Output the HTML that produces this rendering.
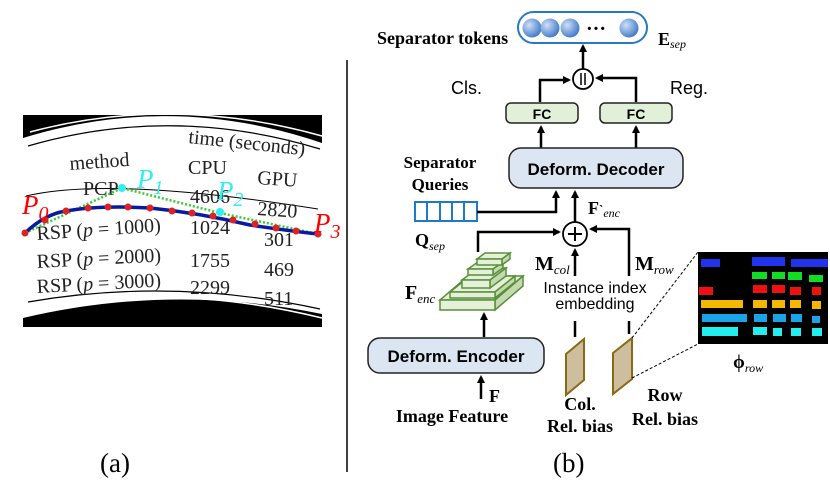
<!DOCTYPE html>
<html><head><meta charset="utf-8"><style>
html,body{margin:0;padding:0;background:#fff;}
svg{display:block;}
.ser{font-family:"Liberation Serif",serif;}
.san{font-family:"Liberation Sans",sans-serif;}
</style></head><body>
<svg width="830" height="498" viewBox="0 0 830 498" xmlns="http://www.w3.org/2000/svg">
<defs>
<marker id="ah" markerWidth="8" markerHeight="8" refX="6" refY="4" orient="auto" markerUnits="userSpaceOnUse">
<path d="M0,0 L8,4 L0,8 Z" fill="#000"/></marker>
<radialGradient id="bg" cx="0.35" cy="0.35" r="0.7">
<stop offset="0" stop-color="#cfe0f7"/><stop offset="1" stop-color="#3f78c8"/></radialGradient>
</defs>

<!-- Panel (a) -->
<rect x="23" y="115" width="299" height="212" fill="#000"/>
<path d="M23,138 Q172,92 322,143 L322,314 Q172,283 23,318 Z" fill="#fff"/>
<path d="M30,132 Q172,94 322,136" fill="none" stroke="#fff" stroke-width="1.5"/>
<path d="M30,310 Q172,281 322,318" fill="none" stroke="#fff" stroke-width="1.5"/>
<path d="M28,146 Q172,104 320,149" fill="none" stroke="#000" stroke-width="1.2"/>
<path d="M26,196 Q110,176 318,209" fill="none" stroke="#000" stroke-width="1"/>
<path d="M28,302 Q172,277 320,309" fill="none" stroke="#000" stroke-width="1.2"/>
<g class="ser" font-size="20" fill="#222">
<text x="188" y="143" transform="rotate(6 188 143)">time (seconds)</text>
<text x="70" y="170" transform="rotate(-4 70 170)">method</text>
<text x="188" y="174">CPU</text>
<text x="257" y="184" transform="rotate(4 257 184)">GPU</text>
<text x="83" y="195">PCP</text>
<text x="190" y="203">4606</text>
<text x="257" y="215" transform="rotate(4 257 215)">2820</text>
<text x="37" y="240" transform="rotate(-4 37 240)">RSP (<tspan font-style="italic">p</tspan> = 1000)</text>
<text x="190" y="234">1024</text>
<text x="264" y="246">301</text>
<text x="37" y="268" transform="rotate(-3 37 268)">RSP (<tspan font-style="italic">p</tspan> = 2000)</text>
<text x="190" y="267">1755</text>
<text x="264" y="276">469</text>
<text x="37" y="293" transform="rotate(-3 37 293)">RSP (<tspan font-style="italic">p</tspan> = 3000)</text>
<text x="190" y="294">2299</text>
<text x="264" y="305">511</text>
</g>
<polyline points="25,233 122,188 220,213 318,234" fill="none" stroke="#3c3" stroke-width="2.5" stroke-dasharray="2,2"/>
<path d="M25,233 Q45,214 66,211 Q100,205 150,208 Q200,213 250,225 Q290,231 318,234" fill="none" stroke="#0a1aa0" stroke-width="3.5"/>
<g fill="#d22">
<circle cx="25" cy="233" r="3.5"/><circle cx="45" cy="220" r="3.5"/><circle cx="66" cy="211" r="3.5"/><circle cx="88" cy="208" r="3.5"/><circle cx="108" cy="207" r="3.5"/><circle cx="128" cy="207" r="3.5"/><circle cx="150" cy="208" r="3.5"/><circle cx="172" cy="211" r="3.5"/><circle cx="192" cy="213" r="3.5"/><circle cx="213" cy="216" r="3.5"/><circle cx="233" cy="220" r="3.5"/><circle cx="255" cy="224" r="3.5"/><circle cx="276" cy="228" r="3.5"/><circle cx="296" cy="231" r="3.5"/><circle cx="318" cy="234" r="3.5"/>
</g>
<circle cx="122" cy="188" r="4" fill="#3ee"/><circle cx="220" cy="212" r="4" fill="#3ee"/>
<g class="ser" font-style="italic" font-size="27">
<text x="22" y="214" fill="#f00">P<tspan font-size="20" dy="6">0</tspan></text>
<text x="137" y="188" fill="#3ee">P<tspan font-size="20" dy="6">1</tspan></text>
<text x="217" y="200" fill="#3ee">P<tspan font-size="20" dy="6">2</tspan></text>
<text x="314" y="232" fill="#f00">P<tspan font-size="20" dy="6">3</tspan></text>
</g>
<text x="100" y="472" class="ser" font-size="27">(a)</text>
<line x1="347" y1="60" x2="347" y2="472" stroke="#000" stroke-width="1.5"/>

<!-- Panel (b) -->
<rect x="518" y="12" width="129" height="31" rx="15.5" fill="#fff" stroke="#2a78c0" stroke-width="2"/>
<circle cx="532" cy="28" r="9.5" fill="url(#bg)"/><circle cx="550" cy="28" r="9.5" fill="url(#bg)"/><circle cx="570" cy="28" r="9.5" fill="url(#bg)"/><circle cx="629" cy="28" r="9.5" fill="url(#bg)"/>
<text x="586" y="35" font-size="20" font-weight="bold" class="ser">···</text>
<text x="377" y="44" class="ser" font-weight="bold" font-size="18">Separator tokens</text>
<text x="658" y="45" class="ser" font-weight="bold" font-size="18">E<tspan font-size="12" font-style="italic" font-weight="normal" dy="3">sep</tspan></text>
<line x1="583" y1="69" x2="583" y2="46" stroke="#000" stroke-width="2.5" marker-end="url(#ah)"/>
<circle cx="583" cy="79" r="10" fill="#fff" stroke="#000" stroke-width="1.8"/>
<line x1="581" y1="73" x2="581" y2="85" stroke="#000" stroke-width="1.5"/><line x1="585" y1="73" x2="585" y2="85" stroke="#000" stroke-width="1.5"/>
<text x="451" y="94" class="san" font-size="18">Cls.</text>
<text x="670" y="94" class="san" font-size="18">Reg.</text>
<polyline points="540,102 540,80 569,80" fill="none" stroke="#000" stroke-width="2.5" marker-end="url(#ah)"/>
<polyline points="636,102 636,78 597,78" fill="none" stroke="#000" stroke-width="2.5" marker-end="url(#ah)"/>
<rect x="506" y="103" width="72" height="20" rx="5" fill="#e2efd9" stroke="#222" stroke-width="1.5"/>
<rect x="600" y="103" width="72" height="20" rx="5" fill="#e2efd9" stroke="#222" stroke-width="1.5"/>
<text x="542" y="119" class="san" font-weight="bold" font-size="14" text-anchor="middle">FC</text>
<text x="636" y="119" class="san" font-weight="bold" font-size="14" text-anchor="middle">FC</text>
<line x1="541" y1="148" x2="541" y2="127" stroke="#000" stroke-width="2.5" marker-end="url(#ah)"/>
<line x1="636" y1="148" x2="636" y2="127" stroke="#000" stroke-width="2.5" marker-end="url(#ah)"/>
<rect x="509" y="148" width="174" height="40" rx="12" fill="#dce6f2" stroke="#222" stroke-width="1.5"/>
<text x="596" y="175" class="san" font-weight="bold" font-size="17" text-anchor="middle">Deform. Decoder</text>

<text x="440" y="168" class="ser" font-weight="bold" font-size="17" text-anchor="middle">Separator</text>
<text x="440" y="190" class="ser" font-weight="bold" font-size="17" text-anchor="middle">Queries</text>
<rect x="415" y="202" width="62" height="19" fill="#fff" stroke="#1e7ac8" stroke-width="2"/>
<g stroke="#1e7ac8" stroke-width="2"><line x1="427" y1="202" x2="427" y2="221"/><line x1="440" y1="202" x2="440" y2="221"/><line x1="452" y1="202" x2="452" y2="221"/><line x1="464" y1="202" x2="464" y2="221"/></g>
<text x="415" y="246" class="ser" font-weight="bold" font-size="18">Q<tspan font-size="12" font-style="italic" font-weight="normal" dy="4">sep</tspan></text>
<polyline points="477,212 556,212 556,192" fill="none" stroke="#000" stroke-width="2.5" marker-end="url(#ah)"/>
<line x1="575" y1="222" x2="575" y2="192" stroke="#000" stroke-width="2.5" marker-end="url(#ah)"/>
<text x="588" y="214" class="ser" font-weight="bold" font-size="18">F<tspan font-size="13">`</tspan><tspan font-size="12" font-style="italic" font-weight="normal" dy="3">enc</tspan></text>
<circle cx="575" cy="234" r="12" fill="#fff" stroke="#000" stroke-width="1.8"/>
<line x1="568" y1="234" x2="582" y2="234" stroke="#000" stroke-width="2"/><line x1="575" y1="227" x2="575" y2="241" stroke="#000" stroke-width="2"/>
<polyline points="478,252 478,232 559,232" fill="none" stroke="#000" stroke-width="2.5" marker-end="url(#ah)"/>
<polyline points="629,276 629,229 591,229" fill="none" stroke="#000" stroke-width="2.5" marker-end="url(#ah)"/>
<line x1="575" y1="276" x2="575" y2="250" stroke="#000" stroke-width="2.5" marker-end="url(#ah)"/>
<text x="535" y="270" class="ser" font-weight="bold" font-size="20">M<tspan font-size="13" font-style="italic" font-weight="normal" dy="4">col</tspan></text>
<text x="635" y="270" class="ser" font-weight="bold" font-size="20">M<tspan font-size="13" font-style="italic" font-weight="normal" dy="4">row</tspan></text>
<text x="595" y="293" class="san" font-size="16" text-anchor="middle">Instance index</text>
<text x="595" y="309" class="san" font-size="16" text-anchor="middle">embedding</text>
<line x1="575" y1="321" x2="575" y2="337" stroke="#000" stroke-width="2.5"/>
<line x1="629" y1="321" x2="629" y2="334" stroke="#000" stroke-width="2.5"/>
<polygon points="566,354 584,339 584,380 566,395" fill="#cdbf9e" stroke="#8b6914" stroke-width="2"/>
<polygon points="613,353 632,338 632,379 613,394" fill="#cdbf9e" stroke="#8b6914" stroke-width="2"/>
<g class="ser" font-weight="bold" font-size="18" text-anchor="middle">
<text x="580" y="410">Col.</text><text x="580" y="432">Rel. bias</text>
<text x="665" y="401">Row</text><text x="665" y="425">Rel. bias</text>
<text x="452" y="422">Image Feature</text>
</g>
<line x1="632" y1="338" x2="698" y2="252" stroke="#000" stroke-dasharray="3,2"/>
<line x1="632" y1="378" x2="698" y2="344" stroke="#000" stroke-dasharray="3,2"/>
<rect x="698" y="252" width="130" height="92" fill="#000"/>
<g>
<rect x="701" y="259" width="19" height="8" fill="#2233ee"/><rect x="752" y="257" width="33" height="9" fill="#2233ee"/><rect x="791" y="259" width="37" height="8" fill="#2233ee"/>
<g fill="#11dd22"><rect x="752" y="272" width="15" height="7"/><rect x="772" y="272" width="13" height="7"/><rect x="788" y="272" width="14" height="8"/><rect x="809" y="275" width="14" height="7"/></g>
<g fill="#ee1111"><rect x="699" y="287" width="14" height="8"/><rect x="753" y="285" width="14" height="8"/><rect x="772" y="285" width="13" height="8"/><rect x="790" y="287" width="11" height="8"/><rect x="812" y="287" width="9" height="8"/></g>
<g fill="#f5b800"><rect x="701" y="300" width="42" height="8"/><rect x="753" y="300" width="14" height="8"/><rect x="772" y="300" width="13" height="8"/><rect x="790" y="300" width="11" height="8"/><rect x="812" y="301" width="9" height="8"/></g>
<g fill="#1aa3e8"><rect x="702" y="314" width="45" height="8"/><rect x="754" y="314" width="13" height="8"/><rect x="773" y="314" width="13" height="8"/><rect x="791" y="314" width="11" height="8"/><rect x="812" y="316" width="8" height="7"/></g>
<g fill="#22eeee"><rect x="702" y="327" width="36" height="9"/><rect x="753" y="327" width="14" height="8"/><rect x="773" y="328" width="9" height="8"/><rect x="791" y="328" width="10" height="8"/><rect x="812" y="328" width="10" height="8"/></g>
</g>
<text x="733" y="368" class="ser" font-weight="bold" font-size="19">ϕ<tspan font-size="12" font-style="italic" font-weight="normal" dy="4">row</tspan></text>

<!-- pyramid -->
<g stroke="#5a8f3a" stroke-width="1.5" fill="#e4f0da">
<polygon points="440,300 495,300 523,276 468,276"/><polygon points="495,300 523,276 523,286 495,310" fill="#c3d9b0"/><rect x="440" y="300" width="55" height="10"/>
<polygon points="450,292 495,292 515,276 470,276"/><polygon points="495,292 515,276 515,282 495,298" fill="#c3d9b0"/><rect x="450" y="292" width="45" height="6"/>
<polygon points="462,280 490,280 506,268 478,268"/><polygon points="490,280 506,268 506,276 490,288" fill="#c3d9b0"/><rect x="462" y="280" width="28" height="8"/>
<polygon points="468,269 493,269 503,262 478,262"/><polygon points="493,269 503,262 503,268 493,275" fill="#c3d9b0"/><rect x="468" y="269" width="25" height="6"/>
<polygon points="477,259 502,259 510,253 485,253"/><polygon points="502,259 510,253 510,259 502,265" fill="#c3d9b0"/><rect x="477" y="259" width="25" height="6"/>
</g>
<text x="405" y="299" class="ser" font-weight="bold" font-size="20">F<tspan font-size="13" font-style="italic" font-weight="normal" dy="4">enc</tspan></text>
<line x1="484" y1="337" x2="484" y2="314" stroke="#000" stroke-width="2.5" marker-end="url(#ah)"/>
<rect x="368" y="338" width="176" height="35" rx="12" fill="#dce6f2" stroke="#222" stroke-width="1.5"/>
<text x="456" y="362" class="san" font-weight="bold" font-size="17" text-anchor="middle">Deform. Encoder</text>
<line x1="481" y1="399" x2="481" y2="377" stroke="#000" stroke-width="2.5" marker-end="url(#ah)"/>
<text x="489" y="402" class="ser" font-weight="bold" font-size="18">F</text>
<text x="553" y="472" class="ser" font-size="27">(b)</text>
</svg>
</body></html>
